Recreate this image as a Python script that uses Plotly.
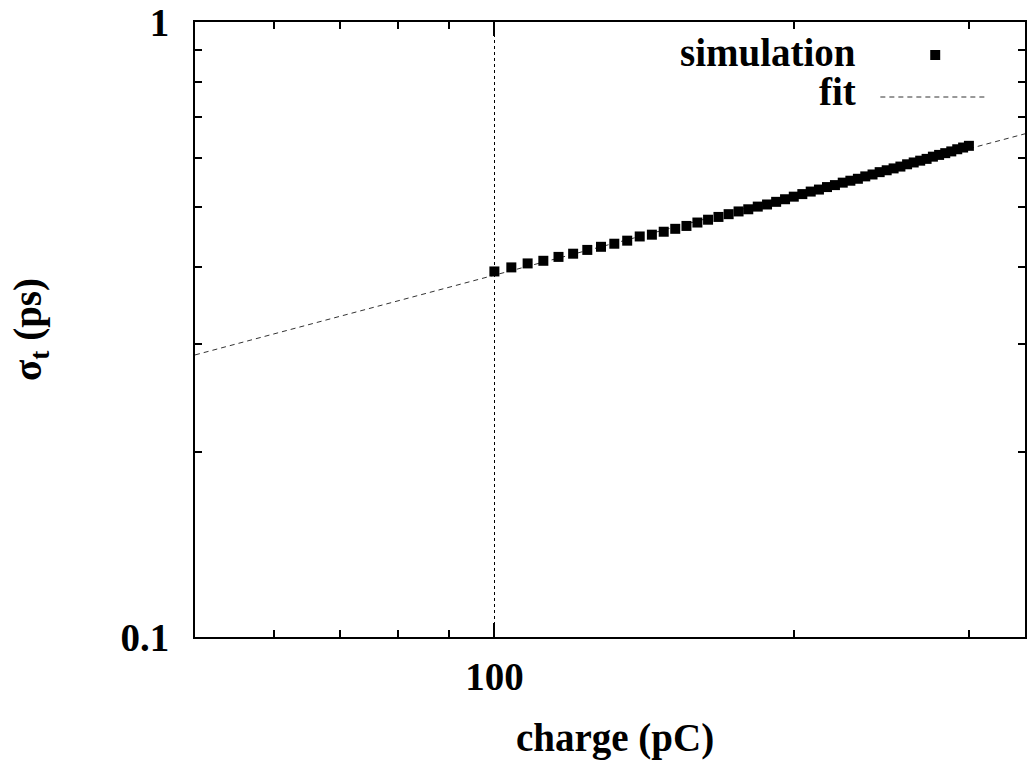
import math
import plotly.graph_objects as go

# Bunch length vs. charge: simulated points and power-law fit
sim_charge = [100, 104, 108, 112, 116, 120, 124, 128, 132, 136, 140, 144, 148,
              152, 156, 160, 164, 168, 172, 176, 180, 184, 188, 192, 196, 200,
              204, 208, 212, 216, 220, 224, 228, 232, 236, 240, 244, 248, 252,
              256, 260, 264, 268, 272, 276, 280, 284, 288, 292, 296, 300]
sim_sigma = [0.393, 0.399, 0.405, 0.409, 0.415, 0.420, 0.426, 0.431, 0.436,
             0.441, 0.448, 0.451, 0.456, 0.461, 0.466, 0.472, 0.477, 0.482,
             0.487, 0.492, 0.496, 0.501, 0.505, 0.510, 0.515, 0.520, 0.525,
             0.530, 0.534, 0.539, 0.543, 0.548, 0.552, 0.556, 0.561, 0.565,
             0.570, 0.574, 0.578, 0.582, 0.587, 0.591, 0.595, 0.599, 0.604,
             0.608, 0.612, 0.616, 0.621, 0.625, 0.629]

# Fit curve (straight line in log-log) across the visible range
fit_charge = [50, 341.6]
fit_sigma = [0.2875, 0.658]

x_major = [100]
x_major_text = ["<b>100</b>"]
x_minor = [60, 70, 80, 90, 200, 300]
y_major = [0.1, 1]
y_major_text = ["<b>0.1</b>", "<b>1</b>"]
y_minor = [0.2, 0.3, 0.4, 0.5, 0.6, 0.7, 0.8, 0.9]

W, H = 1027, 763
L, R, T, B = 195, 0, 22, 126
PW, PH = W - L - R, H - T - B

FONT = "Liberation Serif, Times New Roman, serif"
FS = 39


def px_x(px):
    return (px - L) / PW


def px_y(py):
    return (H - B - py) / PH


fig = go.Figure()
fig.add_trace(go.Scatter(
    x=fit_charge, y=fit_sigma, mode="lines", name="fit",
    line=dict(color="#333333", width=1, dash="5px,4px"),
))
fig.add_trace(go.Scatter(
    x=sim_charge, y=sim_sigma, mode="markers", name="simulation",
    marker=dict(symbol="square", size=10, color="black", line=dict(width=0)),
))

axis_common = dict(
    type="log", ticks="inside", tickcolor="black", tickwidth=1.5, ticklen=14,
    showline=True, linecolor="black", linewidth=2, mirror="ticks",
    zeroline=False, tickmode="array",
    tickfont=dict(family=FONT, size=FS, color="black"),
)

fig.update_xaxes(
    **axis_common,
    range=[math.log10(fit_charge[0]), math.log10(fit_charge[1])],
    tickvals=x_major, ticktext=x_major_text,
    showgrid=True, gridcolor="black", gridwidth=1, griddash="dot",
    ticklabelstandoff=4,
    minor=dict(tickmode="array", tickvals=x_minor, ticks="inside", ticklen=7,
               tickwidth=1.5, tickcolor="black", showgrid=False),
)
fig.update_yaxes(
    **axis_common,
    range=[-1, 0],
    tickvals=y_major, ticktext=y_major_text,
    showgrid=False,
    ticklabelstandoff=16,
    minor=dict(tickmode="array", tickvals=y_minor, ticks="inside", ticklen=7,
               tickwidth=1.5, tickcolor="black", showgrid=False),
)

label_font = dict(family=FONT, size=FS, color="black")
annotations = [
    dict(text="<b>charge (pC)</b>", xref="paper", yref="paper",
         x=px_x(616), y=px_y(738), xanchor="center", yanchor="middle",
         showarrow=False, font=label_font),
    dict(text="<b>σ<sub>t</sub> (ps)</b>", xref="paper", yref="paper",
         x=px_x(30), y=0.5, xanchor="center", yanchor="middle",
         textangle=-90, showarrow=False, font=label_font),
    # key labels, text to the left of the symbol
    dict(text="<b>simulation</b>", xref="paper", yref="paper",
         x=px_x(860), y=px_y(52), xanchor="right", yanchor="middle",
         showarrow=False, font=label_font),
    dict(text="<b>fit</b>", xref="paper", yref="paper",
         x=px_x(860), y=px_y(92), xanchor="right", yanchor="middle",
         showarrow=False, font=label_font),
]

shapes = [
    dict(type="rect", xref="paper", yref="paper",
         x0=px_x(932), x1=px_x(942), y0=px_y(60), y1=px_y(50),
         fillcolor="black", line=dict(width=0)),
    dict(type="line", xref="paper", yref="paper",
         x0=px_x(882), x1=px_x(988), y0=px_y(97), y1=px_y(97),
         line=dict(color="#333333", width=1, dash="5px,4px")),
]

fig.update_layout(
    width=W, height=H,
    margin=dict(l=L, r=R, t=T, b=B, pad=0),
    paper_bgcolor="white", plot_bgcolor="white",
    showlegend=False,
    annotations=annotations,
    shapes=shapes,
    font=dict(family=FONT, color="black"),
)

fig.write_html("out.html", config={"displayModeBar": False})
